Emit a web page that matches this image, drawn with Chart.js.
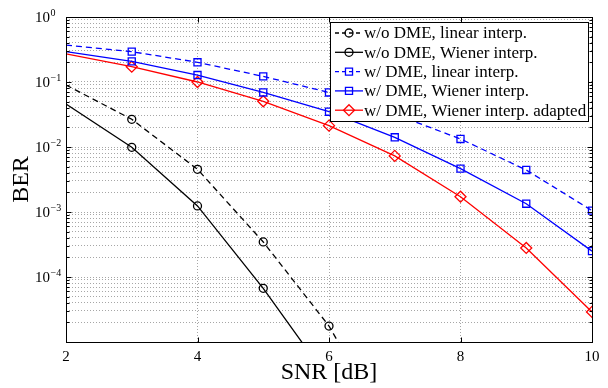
<!DOCTYPE html>
<html><head><meta charset="utf-8">
<script src="https://cdn.jsdelivr.net/npm/chart.js@4/dist/chart.umd.min.js"></script>
<style>html,body{margin:0;padding:0;background:#fff}#wrap{width:608px;height:388px}</style>
</head><body><div id="wrap"><canvas id="c" width="608" height="388"></canvas></div>
<script>
// ---- data ----
const snr = [2, 3, 4, 5, 6, 7, 8, 9, 10];
const woDmeLinear   = [0.09, 0.0267, 0.00454, 3.46e-4, 1.76e-5, 3e-7];
const woDmeWiener   = [0.0459, 0.0099, 1.24e-3, 6.7e-5, 2.6e-6];
const wDmeLinear    = [0.37, 0.293, 0.201, 0.122, 0.069, 0.032, 0.0133, 4.43e-3, 1.05e-3];
const wDmeWiener    = [0.293, 0.208, 0.128, 0.069, 0.0349, 0.0141, 4.64e-3, 1.34e-3, 2.5e-4];
const wDmeWienerAd  = [0.27, 0.172, 0.1, 0.0505, 0.0213, 7.3e-3, 1.72e-3, 2.8e-4, 2.9e-5];
const seriesLabels = [
  'w/o DME, linear interp.',
  'w/o DME, Wiener interp.',
  'w/ DME, linear interp.',
  'w/ DME, Wiener interp.',
  'w/ DME, Wiener interp. adapted'
];
const xTickValues = [2, 4, 6, 8, 10];
const yDecadeExps = [-5, -4, -3, -2, -1, 0];
const yLabelExps = [-4, -3, -2, -1, 0];
const xTitle = 'SNR [dB]';
const yTitle = 'BER';

const SERIF = '"Liberation Serif", "Times New Roman", serif';
const toXY = arr => arr.map((v, i) => ({x: snr[i], y: v}));
const radii = (arr, r) => arr.map((v, i) => i === 0 ? 0 : r);

const styles = [
  {color: '#000000', dash: [6, 4], pointStyle: 'circle', r: 4},
  {color: '#000000', dash: [],     pointStyle: 'circle', r: 4},
  {color: '#0000ff', dash: [6, 4], pointStyle: 'rect',   r: 5},
  {color: '#0000ff', dash: [],     pointStyle: 'rect',   r: 5},
  {color: '#ff0000', dash: [],     pointStyle: 'rectRot',r: 5.5}
];
const seriesData = [woDmeLinear, woDmeWiener, wDmeLinear, wDmeWiener, wDmeWienerAd];

const datasets = seriesData.map((arr, k) => ({
  label: seriesLabels[k],
  data: toXY(arr),
  borderColor: styles[k].color,
  backgroundColor: 'rgba(0,0,0,0)',
  borderWidth: 1.3,
  borderDash: styles[k].dash,
  pointStyle: styles[k].pointStyle,
  pointRadius: radii(arr, styles[k].r),
  pointBorderWidth: 1.3,
  pointBorderColor: styles[k].color,
  pointBackgroundColor: 'rgba(0,0,0,0)',
  tension: 0,
  fill: false
}));

// all 1..9 x decade ticks for the log axis
const yAllTicks = [];
for (const e of yDecadeExps) {
  if (e === 0) { yAllTicks.push({value: 1}); continue; }
  for (let m = 1; m <= 9; m++) yAllTicks.push({value: m * Math.pow(10, e)});
}

function drawMarker(ctx, style, r, x, y, color) {
  ctx.save();
  ctx.strokeStyle = color; ctx.lineWidth = 1.3; ctx.setLineDash([]);
  ctx.beginPath();
  if (style === 'circle') ctx.arc(x, y, r, 0, Math.PI * 2);
  else if (style === 'rect') { const s = r * Math.SQRT1_2; ctx.rect(x - s, y - s, 2 * s, 2 * s); }
  else { ctx.moveTo(x, y - r); ctx.lineTo(x + r, y); ctx.lineTo(x, y + r); ctx.lineTo(x - r, y); ctx.closePath(); }
  ctx.stroke();
  ctx.restore();
}

const decor = {
  id: 'decor',
  afterDraw(chart) {
    const ctx = chart.ctx, a = chart.chartArea;
    const xs = chart.scales.x, ys = chart.scales.y;
    const L = Math.round(a.left) + 0.5, R = Math.round(a.right) + 0.5;
    const T = Math.round(a.top) + 0.5, B = Math.round(a.bottom) + 0.5;
    ctx.save();
    ctx.strokeStyle = '#000'; ctx.lineWidth = 1; ctx.setLineDash([]);
    // ticks
    ctx.beginPath();
    for (const t of yAllTicks) {
      const y = Math.round(ys.getPixelForValue(t.value)) + 0.5;
      const major = Math.abs(Math.log10(t.value) - Math.round(Math.log10(t.value))) < 1e-9;
      const len = major ? 5 : 3;
      ctx.moveTo(L, y); ctx.lineTo(L + len, y);
      ctx.moveTo(R, y); ctx.lineTo(R - len, y);
    }
    for (const v of xTickValues) {
      const x = Math.round(xs.getPixelForValue(v)) + 0.5;
      ctx.moveTo(x, B); ctx.lineTo(x, B - 5);
      ctx.moveTo(x, T); ctx.lineTo(x, T + 5);
    }
    ctx.stroke();
    // box
    ctx.strokeRect(L, T, R - L, B - T);
    // y labels 10^e
    ctx.fillStyle = '#000';
    for (const e of yLabelExps) {
      const y = ys.getPixelForValue(Math.pow(10, e));
      ctx.font = '15px ' + SERIF; ctx.textAlign = 'right'; ctx.textBaseline = 'alphabetic';
      ctx.fillText('10', 50, y + 5);
      ctx.font = '10px ' + SERIF; ctx.textAlign = 'left';
      ctx.fillText(e === 0 ? '0' : '\u2212' + Math.abs(e), 50.5, y - 1);
    }
    // legend
    const lx = 330.5, ly = 22.5, lw = 258, lh = 99;
    ctx.fillStyle = '#fff'; ctx.fillRect(lx, ly, lw, lh);
    ctx.strokeStyle = '#000'; ctx.lineWidth = 1; ctx.strokeRect(lx, ly, lw, lh);
    chart.data.datasets.forEach((ds, i) => {
      const cy = 33 + i * 19.3;
      const st = styles[i];
      ctx.save();
      ctx.strokeStyle = st.color; ctx.lineWidth = 1.3; ctx.setLineDash(st.dash.length ? [4, 3] : []);
      ctx.beginPath(); ctx.moveTo(335, cy); ctx.lineTo(363, cy); ctx.stroke();
      ctx.restore();
      drawMarker(ctx, st.pointStyle, st.r, 349, cy, st.color);
      ctx.fillStyle = '#000'; ctx.font = '17px ' + SERIF; ctx.textAlign = 'left'; ctx.textBaseline = 'middle';
      ctx.fillText(ds.label, 364, cy + 1);
    });
    ctx.restore();
  }
};

new Chart(document.getElementById('c'), {
  type: 'line',
  data: {datasets},
  options: {
    responsive: false,
    devicePixelRatio: 1,
    animation: false,
    layout: {padding: {top: 17, right: 16, left: 0, bottom: 0}},
    plugins: {legend: {display: false}, tooltip: {enabled: false}},
    elements: {line: {borderJoinStyle: 'miter'}},
    scales: {
      x: {
        type: 'linear', min: 2, max: 10,
        afterBuildTicks: s => { s.ticks = xTickValues.map(v => ({value: v})); },
        afterFit: s => { s.height = 46; },
        grid: {color: '#a6a6a6', lineWidth: 1, drawTicks: false},
        border: {display: false, dash: [1, 2]},
        ticks: {padding: 6, color: '#000', font: {family: SERIF, size: 15}, maxRotation: 0},
        title: {display: true, text: xTitle, color: '#000', font: {family: SERIF, size: 24, lineHeight: 1.2}, padding: {top: 0, bottom: 1}}
      },
      y: {
        type: 'logarithmic', min: 1e-5, max: 1,
        afterBuildTicks: s => { s.ticks = yAllTicks.map(t => ({value: t.value})); },
        afterFit: s => { s.width = 66; },
        grid: {color: '#a6a6a6', lineWidth: 1, drawTicks: false},
        border: {display: false, dash: [1, 2]},
        ticks: {display: false},
        title: {display: true, text: yTitle, color: '#000', font: {family: SERIF, size: 24, lineHeight: 1.2}, padding: {top: 7, bottom: 0}}
      }
    }
  },
  plugins: [decor]
});
</script>
</body></html>
